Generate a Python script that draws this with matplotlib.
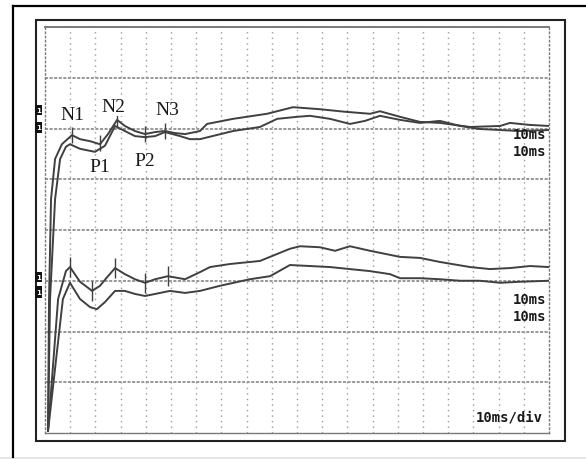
import numpy as np
import matplotlib.pyplot as plt
from matplotlib.patches import Rectangle
from matplotlib.lines import Line2D

# time axis in ms, amplitude in screen divisions (0..8)
t_a = [1.2, 1.6, 2.4, 4.0, 6.7, 10.7, 13.9, 17.9, 21.8, 25.0, 28.6, 31.7, 35.7, 39.7, 43.7,
       47.6, 51.6, 55.6, 61.5, 64.3, 74.6, 88.1, 92.1, 98.4, 109.1, 119.0, 129.0, 132.9,
       140.9, 148.8, 156.7, 168.7, 180.6, 184.5, 192.5, 200.0]
v_a = [0.04, 2.64, 4.61, 5.40, 5.69, 5.87, 5.79, 5.75, 5.69, 5.89, 6.17, 6.05, 5.95, 5.89, 5.93,
       5.95, 5.91, 5.89, 5.95, 6.09, 6.19, 6.29, 6.34, 6.42, 6.38, 6.33, 6.29, 6.34,
       6.23, 6.13, 6.11, 6.03, 6.05, 6.11, 6.07, 6.05]

t_b = [1.2, 2.0, 4.0, 6.0, 8.3, 9.9, 13.9, 19.8, 23.8, 27.8, 31.7, 35.7, 39.7, 43.7, 47.6,
       53.6, 57.5, 61.5, 74.6, 85.3, 92.1, 100.0, 105.2, 113.1, 121.0, 127.0, 132.9, 140.9,
       148.8, 156.7, 164.7, 172.6, 180.6, 188.5, 200.0]
v_b = [0.04, 2.64, 4.61, 5.40, 5.64, 5.69, 5.60, 5.54, 5.66, 6.05, 5.95, 5.85, 5.83, 5.85, 5.93,
       5.85, 5.79, 5.79, 5.95, 6.03, 6.19, 6.23, 6.25, 6.19, 6.09, 6.15, 6.25, 6.17,
       6.11, 6.15, 6.05, 5.99, 5.97, 5.95, 5.97]

t_c = [1.2, 5.2, 8.3, 9.9, 13.9, 18.7, 21.8, 25.0, 27.8, 31.7, 35.7, 39.7, 43.7, 48.8, 55.6,
       61.5, 65.5, 73.4, 85.3, 97.2, 101.2, 109.1, 115.1, 121.0, 129.0, 140.9, 148.8, 156.7,
       168.7, 176.6, 184.5, 192.5, 200.0]
v_c = [0.04, 2.64, 3.19, 3.27, 2.98, 2.80, 2.90, 3.09, 3.25, 3.13, 3.03, 2.96, 3.03, 3.09, 3.03,
       3.17, 3.27, 3.33, 3.39, 3.63, 3.68, 3.66, 3.59, 3.68, 3.59, 3.47, 3.45, 3.37,
       3.27, 3.23, 3.25, 3.29, 3.27]

t_d = [1.2, 7.1, 9.9, 13.9, 17.9, 20.6, 23.8, 27.8, 31.7, 35.7, 39.7, 43.7, 49.6, 55.6, 61.5,
       69.4, 81.3, 89.3, 97.2, 105.2, 113.1, 121.0, 129.0, 136.9, 140.9, 148.8, 156.7, 164.7,
       172.6, 180.6, 188.5, 200.0]
v_d = [0.04, 2.64, 2.96, 2.64, 2.48, 2.44, 2.58, 2.80, 2.80, 2.74, 2.70, 2.74, 2.80, 2.76, 2.80,
       2.90, 3.03, 3.09, 3.31, 3.29, 3.27, 3.23, 3.19, 3.13, 3.05, 3.05, 3.03, 3.00,
       3.00, 2.96, 2.98, 3.00]

# latency cursors
cur_up_t = [10.7, 21.8, 28.6, 39.7, 47.6]
cur_up_v = [5.87, 5.72, 6.17, 5.89, 5.95]
cur_lo_t = [9.9, 18.7, 27.8, 39.7, 48.8]
cur_lo_v = [3.27, 2.80, 3.25, 2.96, 3.09]

peak_names = ['N1', 'N2', 'N3', 'P1', 'P2']
peak_t = [10.7, 27.0, 48.4, 21.8, 39.7]
peak_v = [6.27, 6.44, 6.38, 5.26, 5.36]

W, H = 586, 460
fig = plt.figure(figsize=(W / 100, H / 100), dpi=100)


def fx(x):
    return x / W


def fy(y):
    return 1 - y / H


# frames
fig.add_artist(Line2D([fx(13), 1.0], [fy(7), fy(7)], color='black', lw=1.6))
fig.add_artist(Line2D([fx(13), fx(13)], [fy(7), fy(458)], color='black', lw=1.6))
fig.add_artist(Rectangle((0, 0), 1, fy(458), facecolor='#e6e6e6', edgecolor='none'))
fig.add_artist(Rectangle((fx(36), fy(442)), fx(565) - fx(36), fy(21) - fy(442),
                         facecolor='white', edgecolor='#222222', lw=1.5, zorder=0.5))

ax = fig.add_axes([fx(45), fy(434), fx(549) - fx(45), fy(28) - fy(434)])
ax.set_zorder(2)
ax.set_xlim(0, 200)
ax.set_ylim(0, 8)
ax.set_xticks([])
ax.set_yticks([])
for s in ax.spines.values():
    s.set_color('#7a7a7a')
    s.set_linewidth(1.0)
ax.spines['left'].set_linestyle((0, (1, 2)))
ax.spines['right'].set_linestyle((0, (1, 2)))
ax.spines['top'].set_linewidth(1.4)

for k in range(1, 8):
    ax.axhline(k, color='#7c7c7c', lw=1.1, ls=(0, (2, 1)), zorder=1)
for k in range(1, 20):
    ax.axvline(k * 10, color='#9a9a9a', lw=1.0, ls=(0, (1, 3)), zorder=1)

tc = '#404040'
ax.plot(t_a, v_a, color=tc, lw=1.4, zorder=3)
ax.plot(t_b, v_b, color=tc, lw=1.4, zorder=3)
ax.plot(t_c, v_c, color=tc, lw=1.4, zorder=3)
ax.plot(t_d, v_d, color=tc, lw=1.4, zorder=3)
ax.plot(cur_up_t, cur_up_v, ls='none', marker='|', ms=11, mew=1.0, color=tc, zorder=3)
ax.plot(cur_lo_t, cur_lo_v, ls='none', marker='|', ms=14, mew=1.0, color=tc, zorder=3)

for name, tt, vv in zip(peak_names, peak_t, peak_v):
    ax.text(tt, vv, name, family='Liberation Serif', fontsize=14, ha='center', va='center',
            color='#1a1a1a',
            bbox=dict(boxstyle='square,pad=0.05', fc='white', ec='none'), zorder=4)

mono = dict(family='DejaVu Sans Mono', fontweight='bold', fontsize=10, color='#1a1a1a', zorder=5)
fig.text(fx(546), fy(135), '10ms', ha='right', va='center', **mono)
fig.text(fx(546), fy(152), '10ms', ha='right', va='center', **mono)
fig.text(fx(546), fy(300), '10ms', ha='right', va='center', **mono)
fig.text(fx(546), fy(317), '10ms', ha='right', va='center', **mono)
fig.text(fx(543), fy(418), '10ms/div', ha='right', va='center', **mono)

# channel markers
for y0, y1 in [(106, 116), (123, 134), (273, 283), (287, 299)]:
    fig.add_artist(Rectangle((fx(35), fy(y1)), fx(42) - fx(35), fy(y0) - fy(y1),
                             facecolor='#111111', edgecolor='none', zorder=5))
    fig.text(fx(38.5), fy((y0 + y1) / 2), '1', color='white', fontsize=5,
             ha='center', va='center', fontweight='bold', zorder=6)

fig.savefig('out.png', dpi=100)
